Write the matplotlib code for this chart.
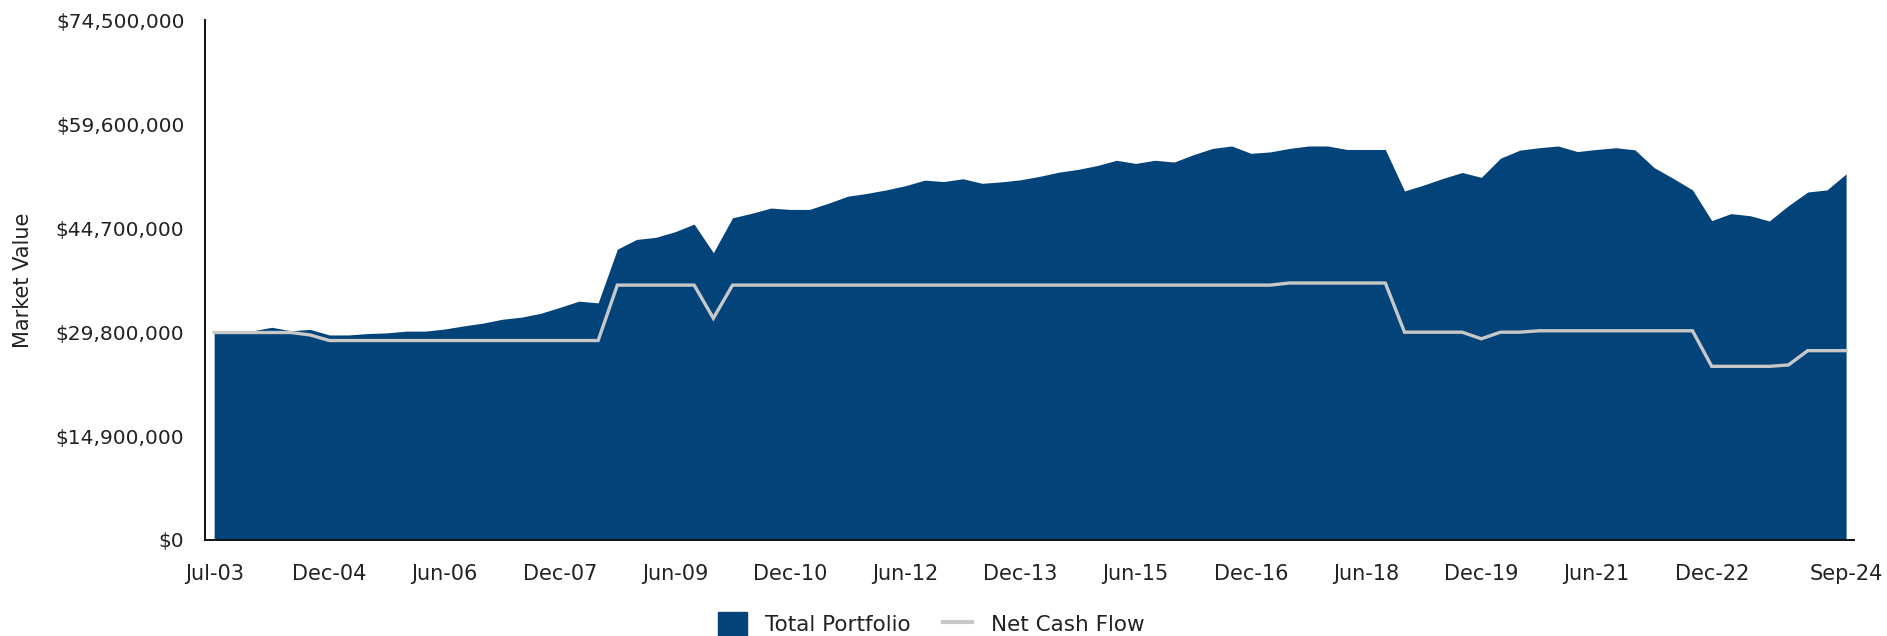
import matplotlib
matplotlib.use("Agg")
import matplotlib.pyplot as plt
from matplotlib.patches import Patch
from matplotlib.lines import Line2D
from matplotlib.ticker import FuncFormatter, MultipleLocator
import numpy as np

# Quarterly observations from Jul-03 to Sep-24 (86 points)
periods = ["Jul-03"] + [f"{m}-{y:02d}" for y in range(3, 25) for m in ("Mar", "Jun", "Sep", "Dec")
                        if not (y == 3 and m in ("Mar", "Jun")) and not (y == 24 and m == "Dec")]

total_portfolio = [
    29.80, 29.85, 30.00, 30.50, 30.00, 30.20, 29.40, 29.40, 29.60, 29.70,
    29.95, 29.95, 30.25, 30.70, 31.10, 31.65, 31.95, 32.50, 33.35, 34.25,
    34.00, 41.70, 43.10, 43.40, 44.20, 45.30, 41.20, 46.20, 46.85, 47.60,
    47.40, 47.40, 48.30, 49.30, 49.70, 50.20, 50.80, 51.60, 51.40, 51.80,
    51.15, 51.35, 51.65, 52.15, 52.75, 53.15, 53.70, 54.45, 54.00, 54.45,
    54.20, 55.25, 56.15, 56.50, 55.45, 55.65, 56.15, 56.50, 56.50, 56.00,
    56.00, 56.00, 50.05, 50.90, 51.85, 52.70, 52.00, 54.75, 55.90, 56.25,
    56.50, 55.70, 56.00, 56.25, 55.95, 53.40, 51.85, 50.20, 45.80, 46.80,
    46.50, 45.75, 47.95, 49.90, 50.20, 52.50,
]  # $ millions

net_cash_flow = [
    29.75, 29.75, 29.75, 29.75, 29.75, 29.40, 28.60, 28.60, 28.60, 28.60,
    28.60, 28.60, 28.60, 28.60, 28.60, 28.60, 28.60, 28.60, 28.60, 28.60,
    28.60, 36.55, 36.55, 36.55, 36.55, 36.55, 31.80, 36.55, 36.55, 36.55,
    36.55, 36.55, 36.55, 36.55, 36.55, 36.55, 36.55, 36.55, 36.55, 36.55,
    36.55, 36.55, 36.55, 36.55, 36.55, 36.55, 36.55, 36.55, 36.55, 36.55,
    36.55, 36.55, 36.55, 36.55, 36.55, 36.55, 36.85, 36.85, 36.85, 36.85,
    36.85, 36.85, 29.80, 29.80, 29.80, 29.80, 28.85, 29.80, 29.80, 30.00,
    30.00, 30.00, 30.00, 30.00, 30.00, 30.00, 30.00, 30.00, 24.90, 24.90,
    24.90, 24.90, 25.10, 27.15, 27.15, 27.15,
]  # $ millions

tick_labels = ["Jul-03", "Dec-04", "Jun-06", "Dec-07", "Jun-09", "Dec-10", "Jun-12",
               "Dec-13", "Jun-15", "Dec-16", "Jun-18", "Dec-19", "Jun-21", "Dec-22", "Sep-24"]

y_max = 74_500_000
y_step = 14_900_000

AREA_COLOR = "#02437a"
LINE_COLOR = "#c8c8c8"
TEXT_COLOR = "#222222"

plt.rcParams["font.family"] = ["DejaVu Sans"]

fig = plt.figure(figsize=(18.87, 6.36), dpi=100)
ax = fig.add_axes([0.1084, 0.151, 0.874, 0.8168])

x = np.arange(len(periods))
tp = np.array(total_portfolio) * 1e6
ncf = np.array(net_cash_flow) * 1e6

ax.fill_between(x, 0, tp, color=AREA_COLOR, linewidth=0, zorder=1)
ax.plot(x, ncf, color=LINE_COLOR, linewidth=2.4, zorder=2, solid_joinstyle="miter")

ax.set_xlim(-0.5, len(periods) - 0.6)
ax.set_ylim(0, y_max)
ax.yaxis.set_major_locator(MultipleLocator(y_step))
ax.yaxis.set_major_formatter(FuncFormatter(lambda v, p: f"${v:,.0f}"))

tick_pos = [periods.index(lbl) for lbl in tick_labels]
ax.set_xticks(tick_pos)
ax.set_xticklabels(tick_labels)

ax.tick_params(axis="both", length=0, colors=TEXT_COLOR)
ax.tick_params(axis="x", pad=17, labelsize=15)
ax.tick_params(axis="y", pad=14.5, labelsize=14.5)

for s in ("top", "right"):
    ax.spines[s].set_visible(False)
for s in ("left", "bottom"):
    ax.spines[s].set_color("#111111")
    ax.spines[s].set_linewidth(1.4)

ax.set_ylabel("Market Value", fontsize=15, color=TEXT_COLOR)
ax.yaxis.set_label_coords(-0.104, 0.5)

handles = [Patch(facecolor=AREA_COLOR, edgecolor=AREA_COLOR),
           Line2D([0], [0], color=LINE_COLOR, linewidth=3)]
fig.legend(handles, ["Total Portfolio", "Net Cash Flow"], loc="center",
           bbox_to_anchor=(0.4934, 0.019), ncol=2, frameon=False, fontsize=15.5,
           handlelength=1.35, handleheight=1.3, columnspacing=1.5, handletextpad=0.85,
           labelcolor=TEXT_COLOR, borderpad=0.2)

fig.savefig("out.png", dpi=100)
